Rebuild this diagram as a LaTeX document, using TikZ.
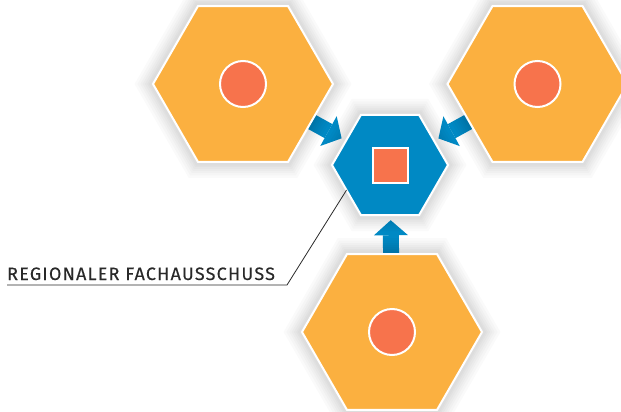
\documentclass[tikz,border=0pt]{standalone}
\usepackage{fontspec}
\setmainfont{Fira Sans}
\usetikzlibrary{shapes.geometric,arrows.meta,backgrounds}

\newlength{\du}
\setlength{\du}{1pt}

\definecolor{hexorange}{rgb}{0.984314, 0.690196, 0.250980}
\definecolor{dotred}{rgb}{0.968627, 0.450980, 0.298039}
\definecolor{hubblue}{rgb}{0.000000, 0.537255, 0.768627}
\definecolor{leadgray}{rgb}{0.160000, 0.160000, 0.160000}

\tikzset{
  glow/.style={preaction={draw=black, opacity=0.02, line width=32\du},
               preaction={draw=black, opacity=0.02, line width=27\du},
               preaction={draw=black, opacity=0.02, line width=22\du},
               preaction={draw=black, opacity=0.02, line width=18\du},
               preaction={draw=black, opacity=0.02, line width=14\du},
               preaction={draw=black, opacity=0.02, line width=10\du},
               preaction={draw=black, opacity=0.02, line width=7\du}},
  hexcell/.style={regular polygon, regular polygon sides=6, inner sep=0pt, outer sep=0pt,
                  minimum size=180\du, fill=hexorange, draw=white, line width=2\du, glow},
  hubcell/.style={hexcell, minimum size=116\du, fill=hubblue},
  dot/.style={circle, inner sep=0pt, minimum size=46\du, fill=dotred, draw=white, line width=2\du},
  core/.style={rectangle, inner sep=0pt, minimum size=35\du, fill=dotred, draw=white, line width=2\du},
  feedrim/.style={draw=white, line width=20\du, shorten >=3\du,
               -{Triangle[length=19pt, width=40pt, line width=0pt]}},
  feed/.style={draw=hubblue, line width=16\du, shorten >=5\du,
               -{Triangle[length=15pt, width=34pt, line width=0pt]}},
  leader/.style={draw=leadgray, line width=0.8\du},
}

\begin{document}
\begin{tikzpicture}
\pgftransformxscale{1.000000}
\pgftransformyscale{-1.000000}
\useasboundingbox (0\du,0\du) rectangle (621\du,412\du);
\clip (0\du,0\du) rectangle (621\du,412\du);
% cells
\node[hexcell] (hexL) at (243.000000\du,84.000000\du){};
\node[hexcell] (hexR) at (537.500000\du,84.000000\du){};
\node[hexcell] (hexB) at (392.000000\du,332.000000\du){};
\node[hubcell] (hub) at (390.000000\du,165.000000\du){};
\node[dot] (dotL) at (hexL.center){};
\node[dot] (dotR) at (hexR.center){};
\node[dot] (dotB) at (hexB.center){};
\node[core] (hubcore) at (hub.center){};
% arrows into the hub
\begin{scope}[on background layer]
\foreach \src in {hexL,hexR,hexB}{
  \draw[feedrim] (\src.center) -- (hub);
  \draw[feed] (\src.center) -- (hub);
}
\end{scope}
% label
\node[anchor=base west, inner sep=0pt, text=leadgray, font=\fontsize{17.9\du}{20\du}\selectfont\addfontfeatures{LetterSpace=7,FakeBold=0.3}] (caption) at (7.000000\du,280.000000\du){REGIONALER FACHAUSSCHUSS};
\coordinate (bend) at (287.000000\du,285.000000\du);
\draw[leader] (hub.210) -- (bend) -- (bend -| caption.west);
\end{tikzpicture}
\end{document}
